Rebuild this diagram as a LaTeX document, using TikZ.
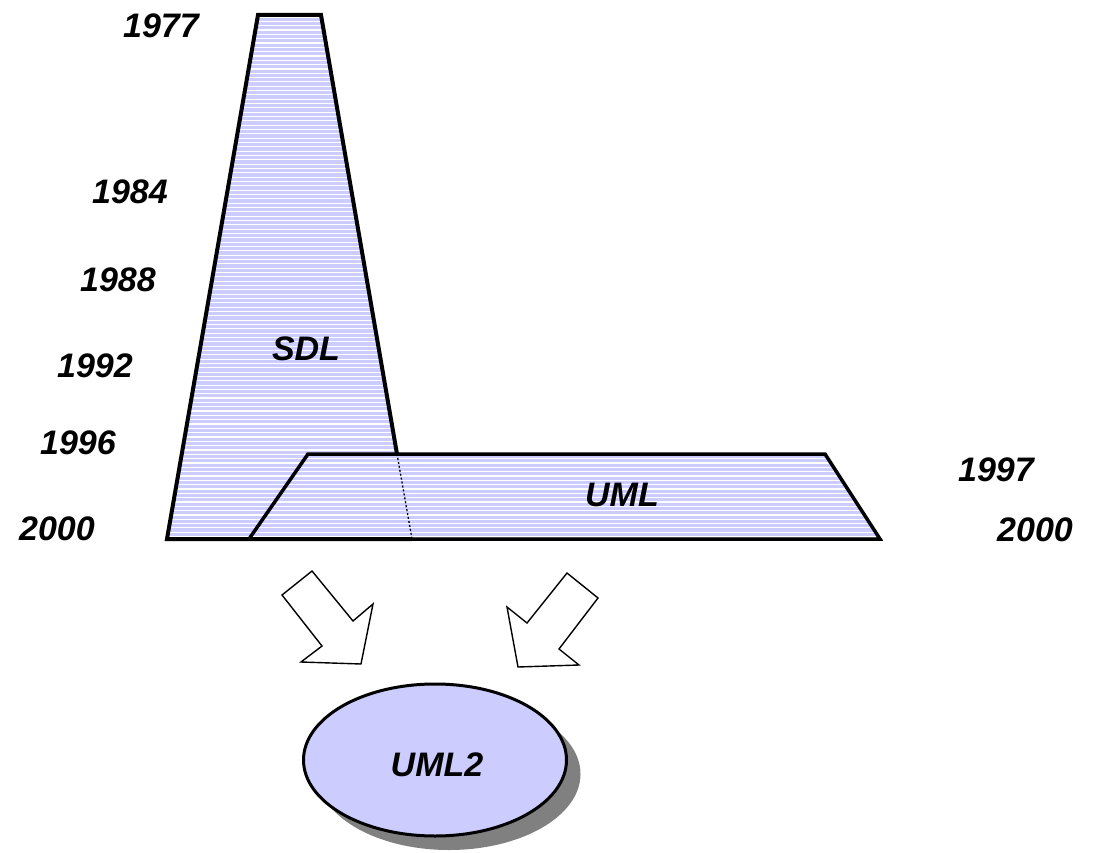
\documentclass[tikz,border=0pt]{standalone}
\usepackage{fontspec}
\setmainfont{Liberation Sans}
\usetikzlibrary{shapes.geometric,shadows}
\definecolor{lav}{HTML}{CCCCFF}
\definecolor{shade}{HTML}{808080}
\begin{document}
\begin{tikzpicture}[x=1pt,y=-1pt,
  yr/.style={font=\fontsize{34}{40}\selectfont\bfseries\itshape, inner sep=0pt},
  outl/.style={draw=black, line width=3.5pt, line join=miter},
  blockarrow/.style={draw=black, line width=1.4pt, fill=white, line join=miter},
  stripe/.style={white, line width=1.1pt}]
\useasboundingbox (0,0) rectangle (1098,853);
% SDL corners
\coordinate (s1) at (258,15);
\coordinate (s2) at (321,15);
\coordinate (s3) at (397,454);
\coordinate (s4) at (412,539);
\coordinate (s5) at (167,539);
% UML corners
\coordinate (u1) at (308,454);
\coordinate (u2) at (825,454);
\coordinate (u3) at (880,539);
\coordinate (u4) at (249,539);
% fills
\fill[lav] (s1)--(s2)--(s4)--(s5)--cycle;
\fill[lav] (u1)--(u2)--(u3)--(u4)--cycle;
\begin{scope}
  \clip (s1)--(s2)--(s4)--(s5)--cycle;
  \foreach \i in {0,...,122} \draw[stripe] (150,{17+4.33*\i})--(430,{17+4.33*\i});
\end{scope}
\begin{scope}
  \clip (u1)--(u2)--(u3)--(u4)--cycle;
  \foreach \i in {0,...,122} \draw[stripe] (240,{17+4.33*\i})--(890,{17+4.33*\i});
\end{scope}
% outlines
\draw[outl] (u1)--(u2)--(u3)--(u4)--cycle;
\draw[outl, line width=4pt] (s4)--(s5)--(s1)--(s2)--(s3);
\draw[black, line width=1.3pt, dash pattern=on 2pt off 2pt] (s3)--(s4);
% labels
\node[yr] (y1977) at (161,26) {1977};
\node[yr] (y1984) at (130,192) {1984};
\node[yr] (y1988) at (118,280) {1988};
\node[yr] (y1992) at (95,366) {1992};
\node[yr] (y1996) at (78,443) {1996};
\node[yr] (y2000a) at (57,529) {2000};
\node[yr] (y1997) at (996,470) {1997};
\node[yr] (y2000b) at (1035,530) {2000};
\node[yr] (sdl) at (306,349) {SDL};
\node[yr] (uml) at (622,495) {UML};
% block arrows
\draw[blockarrow] (282,595)--(312,571)--(353,621)--(373,604)--(361,664)--(301,662)--(322,646)--cycle;
\draw[blockarrow] (567,573)--(598,598)--(559,649)--(579,665)--(518,667)--(507,607)--(527,623)--cycle;
% UML2 ellipse
\node[ellipse, draw=black, line width=3pt, fill=lav, minimum width=263pt, minimum height=152pt,
  drop shadow={shadow xshift=14pt, shadow yshift=-14pt, fill=shade, opacity=1}] (uml2) at (435,760) {};
\node[yr] (uml2t) at (437,765) {UML2};
\end{tikzpicture}
\end{document}
